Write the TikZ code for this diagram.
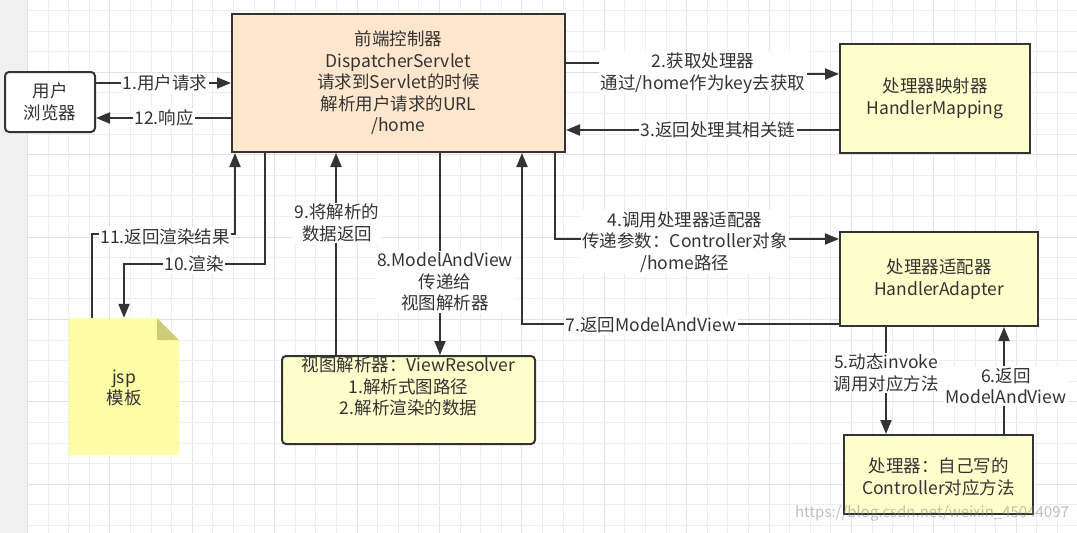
\documentclass[tikz,border=0pt]{standalone}
\usepackage{fontspec}
\setmainfont{Noto Sans CJK SC}
\usetikzlibrary{arrows.meta,calc}
\definecolor{ink}{HTML}{333333}
\definecolor{peach}{HTML}{FFE6CC}
\definecolor{yel}{HTML}{FFFFCC}
\definecolor{note}{HTML}{FFFDA6}
\definecolor{fold}{HTML}{CDCD78}
\definecolor{gridminor}{HTML}{EEEEEE}
\definecolor{gridmajor}{HTML}{E2E2E2}
\definecolor{strip}{HTML}{F1F1F1}
\newcommand\myfs{\fontsize{17.5}{21.5}\selectfont}
\begin{document}
\begin{tikzpicture}[x=1pt,y=-1pt,
  box/.style={draw=ink, line width=2pt, fill=yel, align=center, text=ink, inner sep=2pt, font=\myfs},
  conn/.style={draw=ink, line width=2pt, -{Triangle[length=14pt,width=11pt]}},
  lbl/.style={fill=white, align=center, text=ink, inner sep=1.5pt, font=\myfs},
  plain/.style={align=center, text=ink, inner sep=0pt, font=\myfs},
]
\useasboundingbox (0,0) rectangle (1077,533);
\fill[white] (0,0) rectangle (1077,533);
\fill[strip] (0,0) rectangle (27,533);
% grid
\foreach \i in {0,...,51} {
  \pgfmathsetmacro\gx{27.5+\i*20.6}
  \pgfmathtruncatemacro\m{mod(\i,4)}
  \ifnum\m=0 \draw[gridmajor, line width=1pt] (\gx,0) -- (\gx,533);
  \else \draw[gridminor, line width=1pt] (\gx,0) -- (\gx,533); \fi
}
\foreach \j in {0,...,25} {
  \pgfmathsetmacro\gy{10.5+\j*20.6}
  \pgfmathtruncatemacro\m{mod(\j,4)}
  \ifnum\m=3 \draw[gridmajor, line width=1pt] (27,\gy) -- (1077,\gy);
  \else \draw[gridminor, line width=1pt] (27,\gy) -- (1077,\gy); \fi
}

% nodes
\node[box, fill=white, rounded corners=4pt, minimum width=90pt, minimum height=60pt] (browser) at (50,102) {用户\\浏览器};
\node[box, fill=peach, minimum width=333pt, minimum height=138pt] (ds) at (398.5,83)
  {前端控制器\\DispatcherServlet\\请求到Servlet的时候\\解析用户请求的URL\\/home};
\node[box, minimum width=190pt, minimum height=109pt] (hm) at (935,98.5) {处理器映射器\\HandlerMapping};
\node[box, minimum width=198pt, minimum height=94pt] (ha) at (939,279) {处理器适配器\\HandlerAdapter};
\node[box, minimum width=189pt, minimum height=79pt] (ctrl) at (938.5,474.5) {};
\node[plain] (ctrltext) at (938.5,477) {处理器：自己写的\\Controller对应方法};
\node[box, rounded corners=4pt, minimum width=253pt, minimum height=88pt] (vr) at (408.5,400) {};
\node[plain, anchor=north] (vrtext) at (408.5,357) {视图解析器：ViewResolver\\1.解析式图路径\\2.解析渲染的数据};
\node[minimum width=110pt, minimum height=137pt, inner sep=0pt] (jsp) at (124,386.5) {};
\fill[note] (69,318) -- (157,318) -- (179,340) -- (179,455) -- (69,455) -- cycle;
\fill[fold] (157,318) -- (157,340) -- (179,340) -- cycle;
\node[plain] (jsptext) at (124,388) {jsp\\模板};

% connectors
\draw[conn] (browser.east |- 0,83) -- (ds.west |- 0,83);
\node[lbl] (l1) at (165,83) {1.用户请求};
\draw[conn] (ds.west |- 0,118) -- (browser.east |- 0,118);
\node[lbl] (l12) at (164,118) {12.响应};

\draw[conn] (ds.east |- 0,63) -- (703,63) -- (703,74) -- (hm.west |- 0,74);
\node[lbl] (l2) at (703,73) {2.获取处理器\\通过/home作为key去获取};
\draw[conn] (hm.west |- 0,130) -- (ds.east |- 0,130);
\node[lbl] (l3) at (718,130) {3.返回处理其相关链};

\draw[conn] (ds.south -| 555,0) -- (555,239) -- (ha.west |- 0,239);
\node[lbl] (l4) at (685,242) {4.调用处理器适配器\\传递参数：Controller对象\\/home路径};

\draw[conn] (ha.west |- 0,324) -- (522,324) -- (ds.south -| 522,0);
\node[lbl] (l7) at (651,325) {7.返回ModelAndView};

\draw[conn] (ds.south -| 440,0) -- (vr.north -| 440,0);
\node[lbl] (l8) at (445,282) {8.ModelAndView\\传递给\\视图解析器};

\draw[conn] (vr.north -| 336,0) -- (ds.south -| 336,0);
\node[lbl] (l9) at (337,223) {9.将解析的\\数据返回};

\draw[conn] (ds.south -| 265,0) -- (265,264) -- (124,264) -- (jsp.north);
\node[lbl] (l10) at (194,264) {10.渲染};

\draw[conn] (jsp.north -| 92,0) -- (92,234) -- (235,234) -- (ds.south -| 235,0);
\node[lbl] (l11) at (165,237) {11.返回渲染结果};

\draw[conn] (ha.south -| 886,0) -- (ctrl.north -| 886,0);
\node[lbl] (l5) at (886,373) {5.动态invoke\\调用对应方法};

\draw[conn] (ctrl.north -| 1004,0) -- (ha.south -| 1004,0);
\node[lbl] (l6) at (1006,386) {6.返回\\ModelAndView};

% watermark
\node[text=gray, opacity=0.5, font=\fontsize{15}{18}\selectfont, inner sep=0pt] (wm) at (932,513) {https://blog.csdn.net/weixin\_45044097};
\end{tikzpicture}
\end{document}
